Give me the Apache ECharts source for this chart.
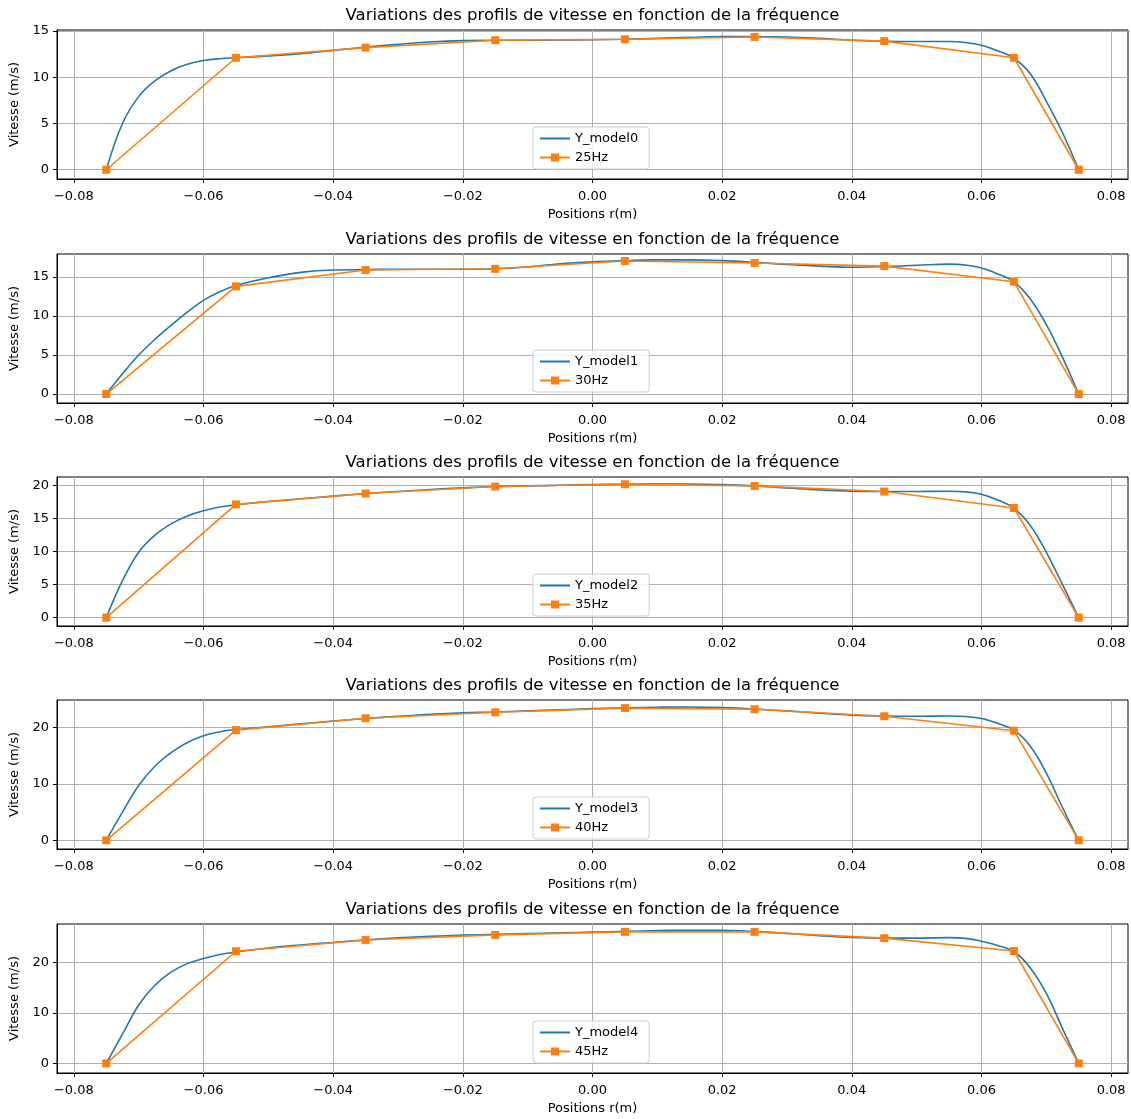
<!DOCTYPE html>
<html>
<head>
<meta charset="utf-8">
<script src="https://cdn.jsdelivr.net/npm/echarts@6/dist/echarts.min.js"></script>
<style>
html,body{margin:0;padding:0;background:#fff;}
#chart{width:1131px;height:1119px;}
</style>
</head>
<body>
<div id="chart"></div>
<script>
// ---- data ----
const titleText = "Variations des profils de vitesse en fonction de la fréquence";
const xTicks = [-0.08, -0.06, -0.04, -0.02, 0, 0.02, 0.04, 0.06, 0.08];
const freqX = [-0.075, -0.055, -0.035, -0.015, 0.005, 0.025, 0.045, 0.065, 0.075];
const v25 = [0, 12.1, 13.2, 14.0, 14.1, 14.35, 13.9, 12.1, 0];
const v30 = [0, 13.8, 15.9, 16.05, 17.05, 16.8, 16.4, 14.4, 0];
const v35 = [0, 17.15, 18.8, 19.85, 20.2, 19.95, 19.1, 16.6, 0];
const v40 = [0, 19.5, 21.6, 22.65, 23.4, 23.2, 21.95, 19.4, 0];
const v45 = [0, 22.25, 24.5, 25.5, 26.1, 26.1, 24.85, 22.3, 0];

const modelX = [-0.075, -0.0725, -0.07, -0.0675, -0.065, -0.0625, -0.06, -0.0575, -0.055,
  -0.05, -0.045, -0.04, -0.035, -0.03, -0.025, -0.02, -0.015, -0.01, -0.005, 0,
  0.005, 0.01, 0.015, 0.02, 0.025, 0.03, 0.035, 0.04, 0.045, 0.05, 0.055, 0.0575,
  0.06, 0.0625, 0.065, 0.0675, 0.07, 0.0725, 0.075];
const model0 = [0, 5.0, 7.9, 9.6, 10.7, 11.4, 11.8, 12.0, 12.1,
  12.3, 12.55, 12.9, 13.25, 13.55, 13.8, 13.95, 14.0, 14.0, 14.02, 14.05,
  14.1, 14.2, 14.3, 14.4, 14.4, 14.35, 14.2, 14.0, 13.9, 13.85, 13.85, 13.75,
  13.45, 12.85, 12.05, 10.4, 7.4, 4.0, 0];
const model1 = [0, 2.6, 5.0, 7.0, 8.8, 10.5, 12.0, 13.1, 13.9,
  14.9, 15.6, 15.9, 15.95, 16.0, 16.0, 16.0, 16.05, 16.3, 16.7, 16.95,
  17.1, 17.2, 17.2, 17.1, 16.9, 16.6, 16.4, 16.25, 16.35, 16.5, 16.65, 16.55,
  16.15, 15.4, 14.4, 12.2, 8.9, 4.7, 0];
const model2 = [0, 5.6, 9.9, 12.5, 14.2, 15.4, 16.2, 16.75, 17.1,
  17.6, 18.0, 18.4, 18.8, 19.1, 19.4, 19.65, 19.85, 19.95, 20.05, 20.15,
  20.2, 20.25, 20.25, 20.15, 19.95, 19.65, 19.35, 19.15, 19.1, 19.1, 19.15, 19.05,
  18.7, 17.8, 16.6, 14.0, 9.9, 5.0, 0];
const model3 = [0, 5.0, 9.7, 13.1, 15.5, 17.3, 18.5, 19.2, 19.6,
  20.1, 20.6, 21.1, 21.55, 21.95, 22.3, 22.55, 22.7, 22.9, 23.1, 23.3,
  23.45, 23.55, 23.6, 23.5, 23.25, 22.9, 22.5, 22.15, 22.0, 21.95, 22.0, 21.9,
  21.55, 20.7, 19.5, 16.7, 11.9, 5.8, 0];
const model4 = [0, 5.8, 11.6, 15.5, 18.1, 19.8, 20.8, 21.6, 22.1,
  22.9, 23.5, 24.0, 24.5, 24.9, 25.2, 25.45, 25.6, 25.75, 25.9, 26.05,
  26.2, 26.35, 26.4, 26.4, 26.15, 25.8, 25.35, 25.0, 24.85, 24.85, 24.95, 24.8,
  24.25, 23.4, 22.2, 19.0, 13.9, 6.9, 0];

const modelNames = ["Y_model0", "Y_model1", "Y_model2", "Y_model3", "Y_model4"];
const freqNames = ["25Hz", "30Hz", "35Hz", "40Hz", "45Hz"];
const yTicks0 = [0, 5, 10, 15];
const yTicks1 = [0, 5, 10, 15];
const yTicks2 = [0, 5, 10, 15, 20];
const yTicks3 = [0, 10, 20];
const yTicks4 = [0, 10, 20];
const yMin = [-1.0, -1.15, -1.27, -1.54, -1.9];
const yMax = [15.1, 17.95, 21.3, 24.83, 27.66];

// ---- layout ----
const models = [model0, model1, model2, model3, model4];
const freqs = [v25, v30, v35, v40, v45];
const yTicks = [yTicks0, yTicks1, yTicks2, yTicks3, yTicks4];
const gridTops = [30, 254, 477, 700, 924];
const gridH = 149;
const legendTops = [127, 350, 574, 797, 1021];
const FONT = "DejaVu Sans";
const BLUE = "#1f77b4", ORANGE = "#ff7f0e";
const HIDE = {color: "rgba(0,0,0,0)", borderColor: "rgba(0,0,0,0)", borderWidth: 0};

const grids = [], xAxes = [], yAxes = [], series = [], titles = [], legends = [];
for (let k = 0; k < 5; k++) {
  grids.push({left: 57, right: 3, top: gridTops[k], height: gridH, show: true,
    borderColor: "#000", borderWidth: 1, backgroundColor: "transparent",
    containLabel: false, outerBoundsMode: "none"});
  titles.push({text: titleText, left: 592.5, textAlign: "center", top: gridTops[k] - 23, padding: 0,
    textStyle: {fontFamily: FONT, fontSize: 16.5, fontWeight: "normal", color: "#000"}});
  xAxes.push({type: "value", gridIndex: k, min: -0.0826, max: 0.0826,
    name: "Positions r(m)", nameLocation: "middle", nameGap: 29,
    nameTextStyle: {fontFamily: FONT, fontSize: 13, color: "#000"},
    axisLine: {show: true, onZero: false, lineStyle: {color: "#000", width: 1}},
    axisTick: {show: true, inside: false, length: 4, customValues: xTicks, lineStyle: {color: "#000"}},
    axisLabel: {customValues: xTicks, margin: 11, fontFamily: FONT, fontSize: 13, color: "#000",
      formatter: v => v.toFixed(2).replace("-", "\u2212")},
    splitLine: {show: true, lineStyle: {color: "#b0b0b0", width: 1}}});
  yAxes.push({type: "value", gridIndex: k, min: yMin[k], max: yMax[k],
    name: "Vitesse (m/s)", nameLocation: "middle", nameGap: 32, nameRotate: 90,
    nameTextStyle: {fontFamily: FONT, fontSize: 13, color: "#000"},
    axisLine: {show: true, onZero: false, lineStyle: {color: "#000", width: 1}},
    axisTick: {show: true, inside: false, length: 4, customValues: yTicks[k], lineStyle: {color: "#000"}},
    axisLabel: {customValues: yTicks[k], margin: 8, fontFamily: FONT, fontSize: 13, color: "#000"},
    splitLine: {show: true, lineStyle: {color: "#b0b0b0", width: 1}}});
  series.push({type: "line", name: modelNames[k], xAxisIndex: k, yAxisIndex: k,
    data: modelX.map((x, i) => [x, models[k][i]]), symbol: "none", smooth: 0.4,
    lineStyle: {color: BLUE, width: 1.6}, itemStyle: {color: BLUE}, z: 2, animation: false});
  series.push({type: "line", name: freqNames[k], xAxisIndex: k, yAxisIndex: k,
    data: freqX.map((x, i) => [x, freqs[k][i]]), symbol: "rect", symbolSize: 8, showSymbol: true,
    lineStyle: {color: ORANGE, width: 1.6}, itemStyle: {color: ORANGE}, z: 3, animation: false});
  legends.push({data: [{name: modelNames[k], itemStyle: HIDE}, {name: freqNames[k]}],
    orient: "vertical", left: 533, top: legendTops[k],
    itemWidth: 30, itemHeight: 10, itemGap: 6, padding: [5, 11, 5, 6],
    backgroundColor: "rgba(255,255,255,0.8)", borderColor: "#cccccc", borderWidth: 1, borderRadius: 3,
    selectedMode: false,
    textStyle: {fontFamily: FONT, fontSize: 13, color: "#000"}});
}

const chart = echarts.init(document.getElementById("chart"), null, {renderer: "canvas"});
chart.setOption({
  animation: false,
  backgroundColor: "#fff",
  title: titles, legend: legends, grid: grids, xAxis: xAxes, yAxis: yAxes, series: series
});
</script>
</body>
</html>
